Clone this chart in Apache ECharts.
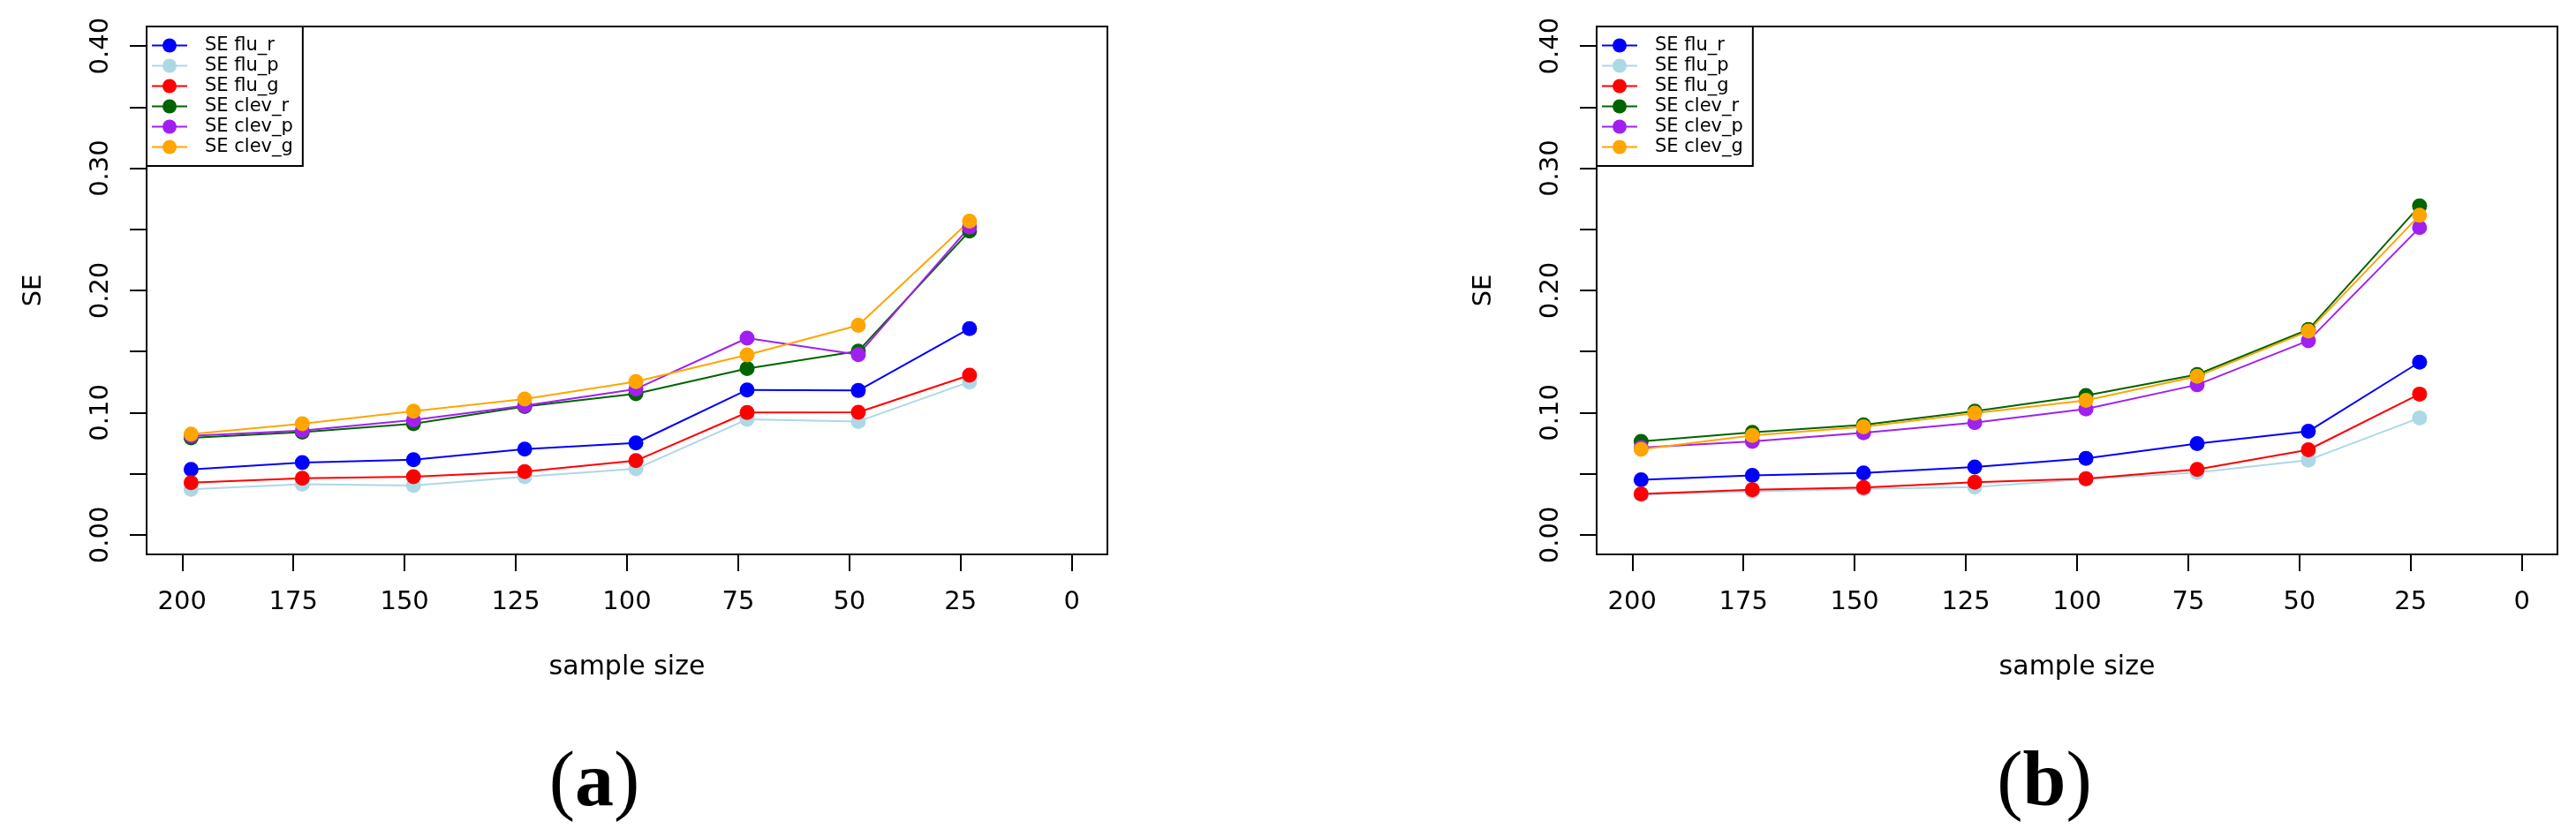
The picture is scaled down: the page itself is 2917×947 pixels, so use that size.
<!DOCTYPE html>
<html>
<head>
<meta charset="utf-8">
<title>SE vs sample size</title>
<script src="https://cdn.jsdelivr.net/npm/echarts@6/dist/echarts.min.js"></script>
<style>
  html, body { margin: 0; padding: 0; background: #fff; }
  #chart { width: 2917px; height: 947px; }
</style>
</head>
<body>
<div id="chart"></div>
<script>
// sample sizes where the points sit (x axis runs 200 -> 0)
var sampleSize = [198, 173, 148, 123, 98, 73, 48, 23];
var xTicks = [200, 175, 150, 125, 100, 75, 50, 25, 0];
var yTicks = [0, 0.05, 0.1, 0.15, 0.2, 0.25, 0.3, 0.35, 0.4];
var yLabels = [0, 0.1, 0.2, 0.3, 0.4];

var names = ['SE flu_r', 'SE flu_p', 'SE flu_g', 'SE clev_r', 'SE clev_p', 'SE clev_g'];
var colors = ['#0000FF', '#ADD8E6', '#FF0000', '#006400', '#A020F0', '#FFA500'];

// panel (a)
var aFluR  = [0.0535, 0.0591, 0.0615, 0.0702, 0.0752, 0.1186, 0.1181, 0.1688];
var aFluP  = [0.0372, 0.0415, 0.0403, 0.0475, 0.0540, 0.0945, 0.0928, 0.1251];
var aFluG  = [0.0427, 0.0463, 0.0475, 0.0518, 0.0607, 0.1001, 0.1003, 0.1307];
var aClevR = [0.0794, 0.0840, 0.0909, 0.1050, 0.1155, 0.1360, 0.1504, 0.2485];
var aClevP = [0.0810, 0.0853, 0.0940, 0.1058, 0.1193, 0.1610, 0.1475, 0.2519];
var aClevG = [0.0824, 0.0909, 0.1012, 0.1111, 0.1254, 0.1473, 0.1714, 0.2567];

// panel (b)
var bFluR  = [0.0451, 0.0487, 0.0506, 0.0556, 0.0625, 0.0746, 0.0847, 0.1413];
var bFluP  = [0.0330, 0.0355, 0.0377, 0.0391, 0.0455, 0.0510, 0.0612, 0.0957];
var bFluG  = [0.0335, 0.0370, 0.0387, 0.0430, 0.0460, 0.0536, 0.0696, 0.1152];
var bClevR = [0.0764, 0.0839, 0.0900, 0.1012, 0.1140, 0.1312, 0.1680, 0.2691];
var bClevP = [0.0715, 0.0764, 0.0835, 0.0918, 0.1030, 0.1228, 0.1589, 0.2514];
var bClevG = [0.0700, 0.0813, 0.0884, 0.0995, 0.1101, 0.1297, 0.1667, 0.2615];

var panelA = [aFluR, aFluP, aFluG, aClevR, aClevP, aClevG];
var panelB = [bFluR, bFluP, bFluG, bClevR, bClevP, bClevG];

var FONT = 'DejaVu Sans';

function pairs(vals) {
  return vals.map(function (v, i) { return [sampleSize[i], v]; });
}

function makeX(idx) {
  return {
    type: 'value', gridIndex: idx, inverse: true, min: -8, max: 208,
    splitLine: { show: false },
    axisLine: { show: false, onZero: false },
    axisTick: { show: true, length: 19, customValues: xTicks, lineStyle: { color: '#000', width: 2 } },
    axisLabel: { customValues: xTicks, margin: 40, color: '#000', fontSize: 29, fontFamily: FONT },
    name: 'sample size', nameLocation: 'middle', nameGap: 113,
    nameTextStyle: { color: '#000', fontSize: 30, fontFamily: FONT }
  };
}

function makeY(idx) {
  return {
    type: 'value', gridIndex: idx, min: -0.016, max: 0.416,
    splitLine: { show: false },
    axisLine: { show: false, onZero: false },
    axisTick: { show: true, length: 19, customValues: yTicks, lineStyle: { color: '#000', width: 2 } },
    axisLabel: {
      customValues: yLabels, rotate: 90, align: 'center', verticalAlign: 'bottom',
      margin: 37, color: '#000', fontSize: 29, fontFamily: FONT,
      formatter: function (v) { return v.toFixed(2); }
    },
    name: 'SE', nameLocation: 'middle', nameRotate: 90, nameGap: 113,
    nameTextStyle: { color: '#000', fontSize: 29, fontFamily: FONT }
  };
}

function makeLegend(left) {
  return {
    orient: 'vertical', left: left, top: 30,
    data: names,
    itemWidth: 40, itemHeight: 20, itemGap: 2,
    padding: [11, 11, 11, 5],
    borderColor: '#000', borderWidth: 2, borderRadius: 0,
    backgroundColor: '#fff',
    selectedMode: false,
    textStyle: { color: '#000', fontSize: 21, fontFamily: FONT, lineHeight: 20, padding: [0, 0, 0, 15] }
  };
}

function panelTitle(letter, x) {
  return {
    text: '{p|(}{b|' + letter + '}{p|)}', left: x, top: 844, textAlign: 'center', padding: 0,
    textStyle: {
      fontWeight: 'normal',
      rich: {
        p: { fontFamily: 'Liberation Serif', fontSize: 88, fontWeight: 'normal', color: '#000', lineHeight: 90 },
        b: { fontFamily: 'Liberation Serif', fontSize: 88, fontWeight: 'bold', color: '#000', lineHeight: 90 }
      }
    }
  };
}

var series = [];
[panelA, panelB].forEach(function (panel, p) {
  panel.forEach(function (vals, i) {
    series.push({
      name: names[i], type: 'line', xAxisIndex: p, yAxisIndex: p,
      data: pairs(vals),
      symbol: 'circle', symbolSize: 17, showSymbol: true,
      lineStyle: { color: colors[i], width: 2 },
      itemStyle: { color: colors[i] },
      animation: false, silent: true
    });
  });
});

var myChart = echarts.init(document.getElementById('chart'));
myChart.setOption({
  animation: false,
  title: [panelTitle('a', 673), panelTitle('b', 2315)],
  legend: [makeLegend(166), makeLegend(1808)],
  grid: [
    { left: 166, top: 30, width: 1088, height: 598, show: true, borderColor: '#000', borderWidth: 2, backgroundColor: 'transparent' },
    { left: 1808, top: 30, width: 1088, height: 598, show: true, borderColor: '#000', borderWidth: 2, backgroundColor: 'transparent' }
  ],
  xAxis: [makeX(0), makeX(1)],
  yAxis: [makeY(0), makeY(1)],
  series: series
});
</script>
</body>
</html>
